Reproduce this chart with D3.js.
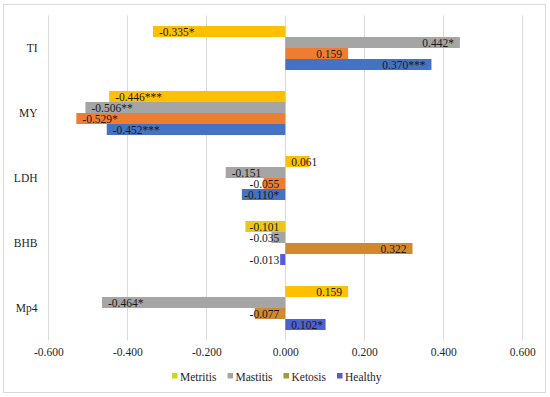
<!DOCTYPE html>
<html>
<head>
<meta charset="utf-8">
<script src="https://cdn.jsdelivr.net/npm/d3@7"></script>
<style>
  html, body { margin: 0; padding: 0; background: #fff; }
  svg { display: block; }
  svg text { font-family: "Liberation Serif", "Times New Roman", serif !important; }
</style>
</head>
<body>
<svg id="chart" width="550" height="397"></svg>
<script>
// ---- data ----
const categories = ["TI", "MY", "LDH", "BHB", "Mp4"];
const seriesNames = ["Metritis", "Mastitis", "Ketosis", "Healthy"];
const metritis = [-0.335, -0.446, 0.061, -0.101, 0.159];
const mastitis = [0.442, -0.506, -0.151, -0.035, -0.464];
const ketosis  = [0.159, -0.529, -0.055, 0.322, -0.077];
const healthy  = [0.370, -0.452, -0.110, -0.013, 0.102];
const metritisSig = ["*", "***", "", "", ""];
const mastitisSig = ["*", "**", "", "", "*"];
const ketosisSig  = ["", "*", "", "", ""];
const healthySig  = ["***", "***", "*", "", "*"];
const xTicks = [-0.6, -0.4, -0.2, 0, 0.2, 0.4, 0.6];

// ---- styles ----
const seriesColors = ["#FFC000", "#A5A5A5", "#ED7D31", "#4472C4"];
const legendColors = ["#C6DA1E", "#A5A5A5", "#A09A3C", "#5A5AC8"];
const barColorOverrides = {
  "BHB|Metritis": "#E9C81C",
  "BHB|Ketosis": "#D4882E",
  "Mp4|Ketosis": "#CF8A34",
  "BHB|Healthy": "#5B5BD4",
  "Mp4|Healthy": "#4F62CC"
};
const FONT = "'Liberation Serif', 'Times New Roman', serif";

const values = [metritis, mastitis, ketosis, healthy];
const sigs = [metritisSig, mastitisSig, ketosisSig, healthySig];

const svg = d3.select("#chart");

// outer border
svg.append("rect").attr("x", 3.5).attr("y", 4.5).attr("width", 542).attr("height", 388)
  .attr("fill", "#fff").attr("stroke", "#d9d9d9").attr("stroke-width", 1);

const x = d3.scaleLinear().domain([-0.6, 0.6]).range([48.3, 522.3]);
const y = d3.scaleBand().domain(categories).range([15.5, 340.5]);
const barH = 11;

// gridlines
svg.append("g").selectAll("line").data(xTicks).join("line")
  .attr("x1", d => Math.round(x(d)) + 0.5).attr("x2", d => Math.round(x(d)) + 0.5)
  .attr("y1", 15.5).attr("y2", 340.5)
  .attr("stroke", "#d9d9d9").attr("stroke-width", 1);

// x tick labels via axis
const xAxis = d3.axisBottom(x).tickValues(xTicks).tickFormat(d3.format(".3f")).tickSize(0).tickPadding(0);
const gx = svg.append("g").attr("transform", "translate(0,346)").call(xAxis)
  .attr("font-family", null);
gx.select(".domain").remove();
gx.selectAll("text").style("font-family", FONT).attr("font-size", "11.5px")
  .attr("fill", "#262626").attr("dy", "0.9em")
  .text(d => d3.format(".3f")(d).replace("−", "-"));

// category labels via axis
const yAxis = d3.axisLeft(y).tickSize(0).tickPadding(0);
const gy = svg.append("g").attr("transform", "translate(37.5,0)").call(yAxis)
  .attr("font-family", null);
gy.select(".domain").remove();
gy.selectAll("text").style("font-family", FONT).attr("font-size", "11.5px").attr("fill", "#262626");

// bars
const rows = [];
categories.forEach((c, ci) => {
  seriesNames.forEach((s, si) => {
    rows.push({ cat: c, series: s, si, v: values[si][ci], sig: sigs[si][ci] });
  });
});

const barY = d => y(d.cat) + y.bandwidth() / 2 + (d.si - 2) * barH;
const x0 = x(0);

svg.append("g").selectAll("rect").data(rows).join("rect")
  .attr("x", d => Math.min(x(d.v), x0))
  .attr("y", d => barY(d))
  .attr("width", d => Math.abs(x(d.v) - x0))
  .attr("height", barH)
  .attr("fill", d => barColorOverrides[d.cat + "|" + d.series] || seriesColors[d.si]);

// labels
const fmt = v => d3.format(".3f")(v).replace("−", "-");
const lab = svg.append("g").selectAll("text").data(rows).join("text")
  .style("font-family", FONT)
  .attr("font-size", "11.5px")
  .attr("fill", "#1a1a1a")
  .attr("y", d => barY(d) + barH / 2 + 4)
  .text(d => fmt(d.v) + d.sig);

const pad = 6;
lab.each(function(d) {
  const w = this.getComputedTextLength();
  const xe = x(d.v);
  let start;
  if (d.v >= 0) {
    const end = Math.max(xe - pad, x0 + pad + w);
    start = end - w;
  } else {
    start = Math.min(xe + pad, x0 - pad - w);
  }
  d3.select(this).attr("x", start);
});

// legend
const legendX = [172, 227.5, 283.5, 337];
const lg = svg.append("g").selectAll("g").data(seriesNames).join("g")
  .attr("transform", (d, i) => `translate(${legendX[i]},373)`);
lg.append("rect").attr("width", 5.5).attr("height", 5.5).attr("fill", (d, i) => legendColors[i]);
lg.append("text").attr("x", 8).attr("y", 7.5).style("font-family", FONT)
  .attr("font-size", "11.5px").attr("fill", "#262626").text(d => d);
</script>
</body>
</html>
